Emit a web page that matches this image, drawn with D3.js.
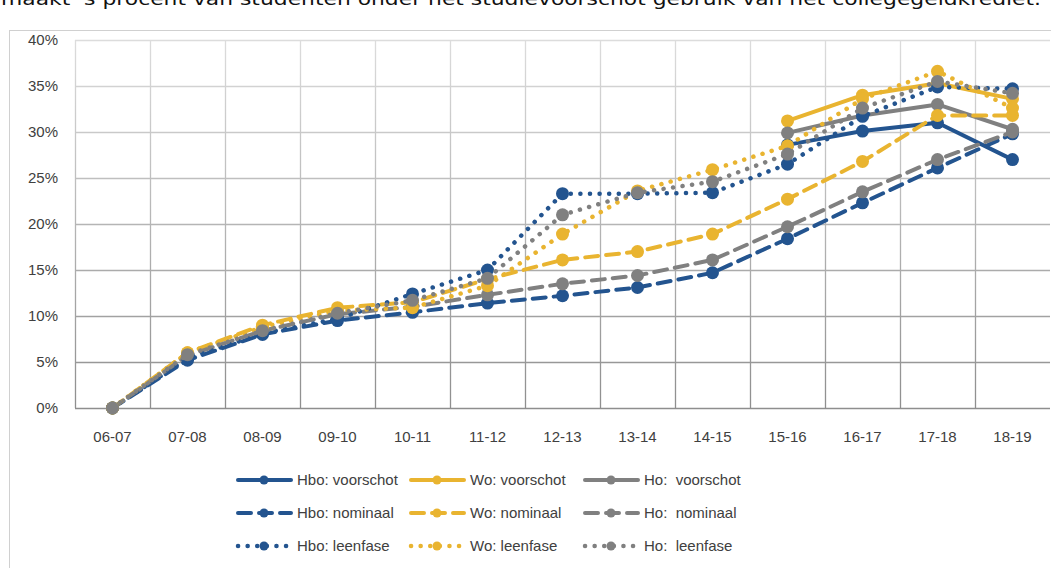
<!DOCTYPE html>
<meta charset="utf-8">
<style>
  body { margin: 0; background: #fff; }
  svg { display: block; font-family: "Liberation Sans", Arial, sans-serif; }
</style>
<body>
<script src="https://cdn.jsdelivr.net/npm/d3@7"></script>
<script>

// categories (studiejaren) and the nine series, in % of students
var years = ["06-07", "07-08", "08-09", "09-10", "10-11", "11-12", "12-13", "13-14", "14-15", "15-16", "16-17", "17-18", "18-19"];

// voorschot only exists from 15-16
var hboVoorschot = [null, null, null, null, null, null, null, null, null, 28.6, 30.1, 31.0, 27.0];
var woVoorschot  = [null, null, null, null, null, null, null, null, null, 31.2, 34.0, 35.3, 33.6];
var hoVoorschot  = [null, null, null, null, null, null, null, null, null, 29.9, 31.8, 33.0, 30.3];

var hboNominaal = [0, 5.2, 8.0, 9.5, 10.4, 11.4, 12.2, 13.1, 14.7, 18.4, 22.3, 26.1, 29.8];
var woNominaal  = [0, 6.0, 9.0, 10.9, 11.5, 14.0, 16.1, 17.0, 18.9, 22.7, 26.8, 31.8, 31.8];
var hoNominaal  = [0, 5.7, 8.4, 10.2, 11.0, 12.3, 13.5, 14.4, 16.1, 19.7, 23.5, 27.0, 30.0];

var hboLeenfase = [0, 5.4, 8.1, 9.7, 12.4, 15.0, 23.3, 23.3, 23.4, 26.5, 31.7, 34.9, 34.7];
var woLeenfase  = [0, 6.0, 8.8, 10.6, 10.9, 13.3, 18.9, 23.6, 25.9, 28.5, 33.6, 36.6, 32.6];
var hoLeenfase  = [0, 5.8, 8.4, 10.3, 11.7, 14.1, 21.0, 23.4, 24.6, 27.6, 32.6, 35.5, 34.2];

var yTicks = [0, 5, 10, 15, 20, 25, 30, 35, 40];

var blue = "#23548f", yellow = "#e9b430", grey = "#808080";

var series = [
  {name: "Hbo: voorschot", values: hboVoorschot, color: blue,   kind: "solid"},
  {name: "Wo: voorschot",  values: woVoorschot,  color: yellow, kind: "solid"},
  {name: "Ho:  voorschot", values: hoVoorschot,  color: grey,   kind: "solid"},
  {name: "Hbo: nominaal",  values: hboNominaal,  color: blue,   kind: "dash"},
  {name: "Wo: nominaal",   values: woNominaal,   color: yellow, kind: "dash"},
  {name: "Ho:  nominaal",  values: hoNominaal,   color: grey,   kind: "dash"},
  {name: "Hbo: leenfase",  values: hboLeenfase,  color: blue,   kind: "dot"},
  {name: "Wo: leenfase",   values: woLeenfase,   color: yellow, kind: "dot"},
  {name: "Ho:  leenfase",  values: hoLeenfase,   color: grey,   kind: "dot"}
];

var dashes = {solid: null, dash: "13,8", dot: "0.1,9.5"};

var W = 1051, H = 568;
var margin = {top: 40, right: 1, bottom: 160, left: 75};

var svg = d3.select("body").append("svg")
    .attr("width", W)
    .attr("height", H);

// title, cut off at the top of the picture
svg.append("text")
    .attr("x", 1)
    .attr("y", 5)
    .attr("textLength", 1040)
    .attr("lengthAdjust", "spacingAndGlyphs")
    .style("font-family", "'DejaVu Sans', sans-serif")
    .style("font-size", "18px")
    .attr("fill", "#111")
    .text("maakt ’s procent van studenten onder het studievoorschot gebruik van het collegegeldkrediet.");

// chart frame
svg.append("rect")
    .attr("x", 9.5).attr("y", 30.5)
    .attr("width", W + 20).attr("height", H + 20)
    .attr("fill", "none")
    .attr("stroke", "#d0d0d0");

var x = d3.scaleBand().domain(years).range([75, 1050]);
var y = d3.scaleLinear().domain([0, 40]).range([408, 40]);

// grid lines get lighter towards the top, like the reference
var gridColor = d3.scaleLinear().domain([0, 40]).range(["#8e8e8e", "#dcdcdc"]);

var defs = svg.append("defs");
var grad = defs.append("linearGradient")
    .attr("id", "vgrid")
    .attr("gradientUnits", "userSpaceOnUse")
    .attr("x1", 0).attr("y1", y(0)).attr("x2", 0).attr("y2", y(40));
grad.append("stop").attr("offset", "0%").attr("stop-color", gridColor(0));
grad.append("stop").attr("offset", "100%").attr("stop-color", gridColor(40));

var g = svg.append("g");

g.selectAll(".hgrid")
    .data(yTicks)
  .enter().append("line")
    .attr("x1", 75).attr("x2", 1050)
    .attr("y1", function(d) { return Math.round(y(d)) + 0.5; })
    .attr("y2", function(d) { return Math.round(y(d)) + 0.5; })
    .attr("stroke", function(d) { return gridColor(d); })
    .attr("stroke-width", 1.3);

var bounds = years.map(function(d) { return x(d); });
g.selectAll(".vgrid")
    .data(bounds)
  .enter().append("line")
    .attr("x1", function(d) { return Math.round(d) + 0.5; })
    .attr("x2", function(d) { return Math.round(d) + 0.5; })
    .attr("y1", y(40)).attr("y2", y(0))
    .attr("stroke", "url(#vgrid)")
    .attr("stroke-width", 1.3);

// y axis labels
var yAxis = svg.append("g")
    .attr("transform", "translate(58,0)")
    .call(d3.axisLeft(y).tickValues(yTicks).tickSize(0).tickFormat(function(d) { return d + "%"; }));
yAxis.select(".domain").remove();
yAxis.selectAll("text")
    .attr("x", 0)
    .style("font-family", "'Liberation Sans', Arial, sans-serif")
    .style("font-size", "15px")
    .attr("fill", "#404040");

// x axis labels
var xAxis = svg.append("g")
    .attr("transform", "translate(0,428)")
    .call(d3.axisBottom(x).tickSize(0));
xAxis.select(".domain").remove();
xAxis.selectAll("text")
    .style("font-family", "'Liberation Sans', Arial, sans-serif")
    .style("font-size", "15px")
    .attr("fill", "#404040");

var cx = function(i) { return x(years[i]) + x.bandwidth() / 2; };

var line = d3.line()
    .defined(function(d) { return d != null; })
    .x(function(d, i) { return cx(i); })
    .y(function(d) { return y(d); });

series.forEach(function(s) {
  var sg = g.append("g");
  sg.append("path")
      .datum(s.values)
      .attr("d", line)
      .attr("fill", "none")
      .attr("stroke", s.color)
      .attr("stroke-width", s.kind == "dot" ? 4.5 : 4)
      .attr("stroke-linecap", "round")
      .attr("stroke-linejoin", "round")
      .attr("stroke-dasharray", dashes[s.kind]);

  sg.selectAll("circle")
      .data(s.values.map(function(v, i) { return {v: v, i: i}; }).filter(function(d) { return d.v != null; }))
    .enter().append("circle")
      .attr("cx", function(d) { return cx(d.i); })
      .attr("cy", function(d) { return y(d.v); })
      .attr("r", 6.5)
      .attr("fill", s.color);
});

// legend, three columns of three
var legX = [235, 408, 582], legY = [480, 513, 546];
var legend = svg.append("g");
series.forEach(function(s, k) {
  var col = k % 3, row = Math.floor(k / 3);
  var lg = legend.append("g")
      .attr("transform", "translate(" + legX[col] + "," + legY[row] + ")");
  lg.append("line")
      .attr("x1", 3).attr("x2", 56)
      .attr("stroke", s.color)
      .attr("stroke-width", s.kind == "dot" ? 4.5 : 4)
      .attr("stroke-linecap", "round")
      .attr("stroke-dasharray", dashes[s.kind]);
  lg.append("circle")
      .attr("cx", 29).attr("cy", 0)
      .attr("r", 4.5)
      .attr("fill", s.color);
  lg.append("text")
      .attr("x", 62)
      .attr("dy", "0.35em")
      .style("white-space", "pre")
      .attr("xml:space", "preserve")
      .style("font-size", "15px")
      .attr("fill", "#404040")
      .text(s.name);
});

</script>
</body>
